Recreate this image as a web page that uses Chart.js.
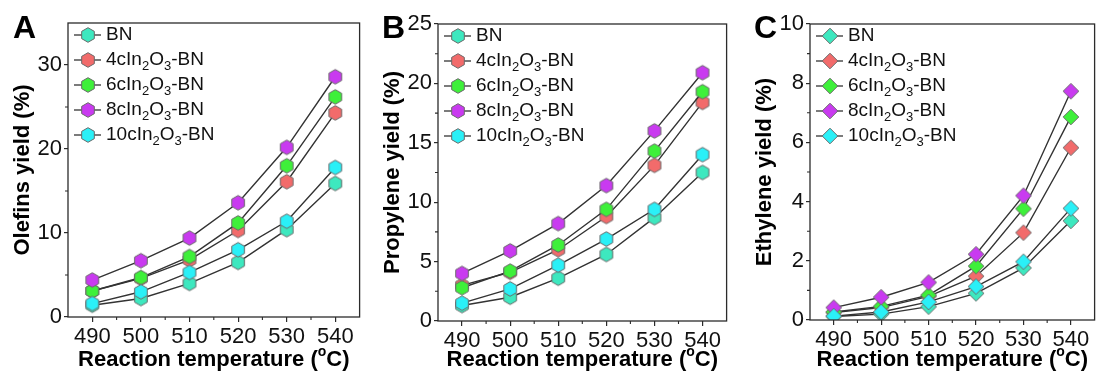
<!DOCTYPE html>
<html>
<head>
<meta charset="utf-8">
<script src="https://cdn.jsdelivr.net/npm/chart.js@4.4.0/dist/chart.umd.min.js"></script>
<style>
  html, body { margin: 0; padding: 0; background: #fff; }
  body { width: 1103px; height: 379px; position: relative; overflow: hidden; }
  .panel { position: absolute; top: 0; }
  #panelA { left: 0; }
  #panelB { left: 370px; }
  #panelC { left: 742px; }
</style>
</head>
<body>
<div class="panel" id="panelA"><canvas id="chartA" width="368" height="379"></canvas></div>
<div class="panel" id="panelB"><canvas id="chartB" width="365" height="379"></canvas></div>
<div class="panel" id="panelC"><canvas id="chartC" width="361" height="379"></canvas></div>
<script>
// Shared categories
const temperatures = [490, 500, 510, 520, 530, 540];
const seriesNames = ['BN', '4cIn2O3-BN', '6cIn2O3-BN', '8cIn2O3-BN', '10cIn2O3-BN'];
const seriesColors = ['#3de8bf', '#f26b6b', '#3ef03a', '#c93af0', '#2af0f7'];

// Olefins yield (%)
const olefinsBN  = [1.4, 2.2, 4.0, 6.5, 10.4, 15.9];
const olefins4c  = [3.1, 4.6, 6.8, 10.3, 16.1, 24.3];
const olefins6c  = [3.1, 4.7, 7.2, 11.2, 18.0, 26.2];
const olefins8c  = [4.4, 6.7, 9.4, 13.6, 20.2, 28.6];
const olefins10c = [1.6, 3.0, 5.3, 8.0, 11.4, 17.8];

// Propylene yield (%)
const propyleneBN  = [1.3, 2.0, 3.6, 5.6, 8.7, 12.5];
const propylene4c  = [3.0, 4.1, 6.0, 8.8, 13.1, 18.4];
const propylene6c  = [2.8, 4.2, 6.4, 9.4, 14.3, 19.3];
const propylene8c  = [4.0, 5.9, 8.2, 11.4, 16.0, 20.9];
const propylene10c = [1.5, 2.7, 4.7, 6.9, 9.4, 14.0];

// Ethylene yield (%)
const ethyleneBN  = [0.12, 0.20, 0.45, 0.90, 1.76, 3.35];
const ethylene4c  = [0.25, 0.42, 0.80, 1.48, 2.95, 5.82];
const ethylene6c  = [0.27, 0.46, 0.84, 1.82, 3.76, 6.86];
const ethylene8c  = [0.42, 0.77, 1.27, 2.22, 4.20, 7.73];
const ethylene10c = [0.13, 0.27, 0.61, 1.13, 1.97, 3.77];

const yTicksA = [0, 10, 20, 30];
const yTicksB = [0, 5, 10, 15, 20, 25];
const yTicksC = [0, 2, 4, 6, 8, 10];

const FONT = "'Liberation Sans', Arial, sans-serif";
const AXIS_COLOR = '#2b2b2b';

// small marker bitmaps used as pointStyle
function makeMarker(shape, fill) {
  const r = shape === 'hex' ? 7.3 : 7.8;
  const size = 18;
  const c = document.createElement('canvas');
  c.width = c.height = size;
  const g = c.getContext('2d');
  const cx = size / 2, cy = size / 2;
  g.beginPath();
  if (shape === 'hex') {
    for (let i = 0; i < 6; i++) {
      const a = Math.PI / 2 + i * Math.PI / 3;
      const px = cx + r * Math.cos(a), py = cy - r * Math.sin(a);
      if (i === 0) g.moveTo(px, py); else g.lineTo(px, py);
    }
  } else {
    g.moveTo(cx, cy - r);
    g.lineTo(cx + r, cy);
    g.lineTo(cx, cy + r);
    g.lineTo(cx - r, cy);
  }
  g.closePath();
  g.fillStyle = fill;
  g.fill();
  g.strokeStyle = '#6a6a6a';
  g.lineWidth = 1;
  g.stroke();
  return c;
}

// text with subscripted digits after letters (In2O3)
function drawChemText(ctx, text, x, y, size) {
  let cx = x;
  for (let i = 0; i < text.length; i++) {
    const ch = text[i];
    const sub = /\d/.test(ch) && i > 0 && /[A-Za-z]/.test(text[i - 1]);
    ctx.font = (sub ? Math.round(size * 0.68) : size) + 'px ' + FONT;
    ctx.fillText(ch, cx, sub ? y + 6 : y);
    cx += ctx.measureText(ch).width;
  }
}

const panelPlugin = {
  id: 'panelDecor',
  afterDatasetsDraw(chart, args, opts) {
    const ctx = chart.ctx;
    const area = chart.chartArea;
    const xs = chart.scales.x, ys = chart.scales.y;
    ctx.save();
    // frame
    ctx.strokeStyle = AXIS_COLOR;
    ctx.lineWidth = 1.3;
    ctx.strokeRect(area.left, area.top, area.right - area.left, area.bottom - area.top);
    // minor ticks
    ctx.lineWidth = 1.1;
    ctx.beginPath();
    [495, 505, 515, 525, 535].forEach(v => {
      const px = xs.getPixelForValue(v);
      ctx.moveTo(px, area.bottom);
      ctx.lineTo(px, area.bottom + 3);
    });
    opts.yMinor.forEach(v => {
      const py = ys.getPixelForValue(v);
      ctx.moveTo(area.left, py);
      ctx.lineTo(area.left - 3, py);
    });
    ctx.stroke();

    // legend
    ctx.textBaseline = 'middle';
    ctx.textAlign = 'left';
    chart.data.datasets.forEach((ds, i) => {
      const y = area.top + 12 + i * 25;
      ctx.strokeStyle = '#333';
      ctx.lineWidth = 1.3;
      ctx.beginPath();
      ctx.moveTo(area.left + 6, y);
      ctx.lineTo(area.left + 33, y);
      ctx.stroke();
      ctx.drawImage(ds.pointStyle, area.left + 20 - 9, y - 9);
      ctx.fillStyle = '#111';
      drawChemText(ctx, ds.label, area.left + 38, y, 19);
    });

    // x-axis title with superscript degree
    const cxm = (area.left + area.right) / 2;
    const ty = 360;
    ctx.fillStyle = '#000';
    const big = 'bold 22px ' + FONT, small = 'bold 14px ' + FONT;
    const partA = 'Reaction temperature (', partB = 'o', partC = 'C)';
    ctx.font = big; const wA = ctx.measureText(partA).width, wC = ctx.measureText(partC).width;
    ctx.font = small; const wB = ctx.measureText(partB).width;
    let x0 = cxm - (wA + wB + wC) / 2;
    ctx.font = big; ctx.fillText(partA, x0, ty);
    ctx.font = small; ctx.fillText(partB, x0 + wA, ty - 8);
    ctx.font = big; ctx.fillText(partC, x0 + wA + wB, ty);

    // panel letter
    ctx.font = 'bold 32px ' + FONT;
    ctx.textBaseline = 'alphabetic';
    ctx.fillText(opts.letter, opts.letterX, 38);
    ctx.restore();
  }
};

function buildChart(canvasId, seriesData, cfg) {
  const datasets = seriesData.map((vals, i) => ({
    label: seriesNames[i],
    data: temperatures.map((t, j) => ({ x: t, y: vals[j] })),
    borderColor: '#333',
    borderWidth: 1.4,
    pointStyle: makeMarker(cfg.shape, seriesColors[i]),
    pointRadius: 7,
    tension: 0,
    order: seriesData.length - i
  }));
  return new Chart(document.getElementById(canvasId), {
    type: 'line',
    data: { datasets },
    options: {
      responsive: false,
      animation: false,
      events: [],
      layout: { padding: { top: cfg.top, right: cfg.right, left: 0, bottom: 0 } },
      plugins: {
        legend: { display: false },
        tooltip: { enabled: false },
        panelDecor: { letter: cfg.letter, letterX: cfg.letterX, yMinor: cfg.yMinor }
      },
      scales: {
        x: {
          type: 'linear',
          min: 485, max: 545,
          afterBuildTicks: s => { s.ticks = temperatures.map(v => ({ value: v })); },
          afterFit: s => { s.height = cfg.xHeight; },
          border: { display: false },
          grid: { drawOnChartArea: false, drawTicks: true, tickLength: 5, color: AXIS_COLOR, lineWidth: 1.2 },
          ticks: { color: '#111', font: { family: FONT, size: 22 }, padding: 2, maxRotation: 0 }
        },
        y: {
          min: cfg.yMin, max: cfg.yMax,
          afterBuildTicks: s => { s.ticks = cfg.yTicks.map(v => ({ value: v })); },
          afterFit: s => { s.width = 68; },
          border: { display: false },
          grid: { drawOnChartArea: false, drawTicks: true, tickLength: 4, color: AXIS_COLOR, lineWidth: 1.2 },
          ticks: { color: '#111', font: { family: FONT, size: 22 }, padding: 2 },
          title: {
            display: true, text: cfg.yTitle, color: '#000',
            font: { family: FONT, size: 22, weight: 'bold' },
            padding: { top: 10, bottom: 0 }
          }
        }
      }
    },
    plugins: [panelPlugin]
  });
}

buildChart('chartA', [olefinsBN, olefins4c, olefins6c, olefins8c, olefins10c], {
  shape: 'hex', top: 23, right: 7, xHeight: 62, yMin: 0, yMax: 35, yTicks: yTicksA,
  yMinor: [5, 15, 25], yTitle: 'Olefins yield (%)', letter: 'A', letterX: 13
});
buildChart('chartB', [propyleneBN, propylene4c, propylene6c, propylene8c, propylene10c], {
  shape: 'hex', top: 24, right: 3, xHeight: 58, yMin: 0, yMax: 25, yTicks: yTicksB,
  yMinor: [2.5, 7.5, 12.5, 17.5, 22.5], yTitle: 'Propylene yield (%)', letter: 'B', letterX: 12
});
buildChart('chartC', [ethyleneBN, ethylene4c, ethylene6c, ethylene8c, ethylene10c], {
  shape: 'diamond', top: 24, right: 1, xHeight: 59, yMin: 0, yMax: 10, yTicks: yTicksC,
  yMinor: [1, 3, 5, 7, 9], yTitle: 'Ethylene yield (%)', letter: 'C', letterX: 12
});
</script>
</body>
</html>
